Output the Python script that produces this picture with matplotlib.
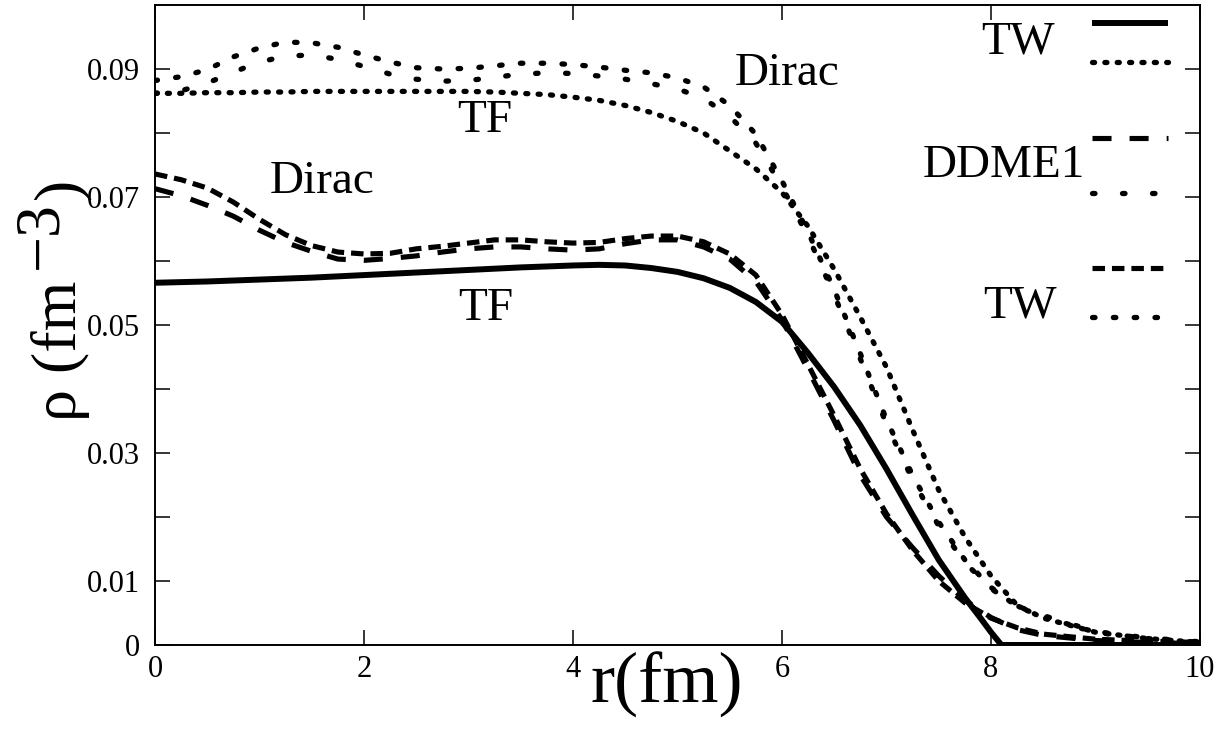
import matplotlib
matplotlib.use('Agg')
import matplotlib.pyplot as plt
from matplotlib.transforms import IdentityTransform

plt.rcParams['font.family'] = ['Liberation Serif', 'DejaVu Serif']
plt.rcParams['lines.scale_dashes'] = False

# ---------------- data ----------------
r_tf_solid = [0, 0.5, 1, 1.5, 2, 2.5, 3, 3.5, 4, 4.25, 4.5, 4.75, 5, 5.25, 5.5, 5.75,
              6, 6.25, 6.5, 6.75, 7, 7.25, 7.5, 7.75, 7.9, 8, 8.1, 9, 10]
rho_tf_solid = [0.0566, 0.0568, 0.0571, 0.0574, 0.0578, 0.0582, 0.0586, 0.0590, 0.0593,
                0.0594, 0.0593, 0.0589, 0.0583, 0.0573, 0.0558, 0.0536, 0.0505, 0.0456,
                0.0403, 0.0343, 0.0275, 0.0203, 0.0133, 0.0074, 0.0042, 0.0020, 0.0,
                0.0, 0.0]

r_grid = [0.0, 0.25, 0.5, 0.75, 1.0, 1.25, 1.5, 1.75, 2.0, 2.25, 2.5, 2.75, 3.0, 3.25,
          3.5, 3.75, 4.0, 4.25, 4.5, 4.75, 5.0, 5.25, 5.5, 5.75, 6.0, 6.25, 6.5, 6.75,
          7.0, 7.25, 7.5, 7.75, 8.0, 8.25, 8.5, 9.0, 9.5, 10.0]

rho_tf_dotted = [0.0862, 0.0862, 0.0863, 0.0863, 0.0864, 0.0864, 0.0865, 0.0865, 0.0865,
                 0.0865, 0.0865, 0.0865, 0.0865, 0.0864, 0.0862, 0.0860, 0.0856, 0.0851,
                 0.0843, 0.0832, 0.0818, 0.0800, 0.0772, 0.0744, 0.0707, 0.0654, 0.0587,
                 0.0512, 0.0434, 0.0336, 0.0242, 0.0169, 0.0108, 0.0062, 0.0042, 0.0020,
                 0.0010, 0.0004]

rho_tw_dot = [0.0882, 0.0888, 0.0899, 0.0919, 0.0933, 0.0942, 0.0941, 0.0934, 0.0922,
              0.0911, 0.0902, 0.0900, 0.0901, 0.0905, 0.0909, 0.0909, 0.0907, 0.0903,
              0.0898, 0.0894, 0.0886, 0.0872, 0.0843, 0.0798, 0.0725, 0.0645, 0.0555,
              0.0455, 0.0352, 0.0265, 0.0192, 0.0133, 0.0090, 0.0060, 0.0044, 0.0020,
              0.0010, 0.0004]

rho_ddme1_dot = [0.0862, 0.0866, 0.0878, 0.0895, 0.0911, 0.0920, 0.0922, 0.0915, 0.0904,
                 0.0892, 0.0884, 0.0881, 0.0882, 0.0887, 0.0892, 0.0894, 0.0893, 0.0889,
                 0.0884, 0.0877, 0.0869, 0.0854, 0.0826, 0.0784, 0.0716, 0.0638, 0.0547,
                 0.0447, 0.0345, 0.0258, 0.0186, 0.0129, 0.0088, 0.0061, 0.0046, 0.0021,
                 0.0011, 0.0005]

rho_ddme1_dash = [0.0713, 0.0702, 0.0687, 0.0670, 0.0648, 0.0629, 0.0615, 0.0603, 0.0601,
                  0.0604, 0.0608, 0.0614, 0.0619, 0.0622, 0.0622, 0.0619, 0.0617, 0.0619,
                  0.0627, 0.0633, 0.0633, 0.0622, 0.0603, 0.0568, 0.0508, 0.0430, 0.0350,
                  0.0265, 0.0200, 0.0152, 0.0108, 0.0070, 0.0043, 0.0024, 0.0015, 0.0007,
                  0.0004, 0.0002]

rho_tw_dash = [0.0736, 0.0727, 0.0714, 0.0692, 0.0665, 0.0641, 0.0624, 0.0614, 0.0611,
               0.0612, 0.0619, 0.0623, 0.0628, 0.0633, 0.0633, 0.0630, 0.0628, 0.0629,
               0.0635, 0.0639, 0.0639, 0.0630, 0.0611, 0.0578, 0.0516, 0.0438, 0.0358,
               0.0275, 0.0205, 0.0148, 0.0100, 0.0066, 0.0042, 0.0027, 0.0017, 0.0009,
               0.0006, 0.0004]

x_ticks = [0, 2, 4, 6, 8, 10]
y_ticks = [0, 0.01, 0.02, 0.03, 0.04, 0.05, 0.06, 0.07, 0.08, 0.09]
y_tick_labels = ['0', '0.01', '', '0.03', '', '0.05', '', '0.07', '', '0.09']

# ---------------- styles ----------------
st_solid = dict(color='black', lw=4.3, linestyle='-', solid_capstyle='butt',
                solid_joinstyle='round')
st_fine_dot = dict(color='black', lw=3.8, linestyle=(0, (1.5, 7.4)), dash_capstyle='round')
st_tw_dot = dict(color='black', lw=3.8, linestyle=(0, (1.8, 13.2)), dash_capstyle='round')
st_dd_dot = dict(color='black', lw=3.8, linestyle=(0, (1.8, 19.8)), dash_capstyle='round')
st_dd_dash = dict(color='black', lw=3.7, linestyle=(0, (13.7, 13.0)), dash_capstyle='butt')
st_tw_dash = dict(color='black', lw=3.7, linestyle=(0, (9.0, 5.0)), dash_capstyle='butt')

W, H = 1229, 733
fig = plt.figure(figsize=(W / 100, H / 100), dpi=100)
ax = fig.add_axes([155 / W, (H - 645) / H, 1045 / W, 640 / H])

ax.plot(r_tf_solid, rho_tf_solid, **st_solid)
ax.plot(r_grid, rho_tf_dotted, **st_fine_dot)
ax.plot(r_grid, rho_ddme1_dash, **st_dd_dash)
ax.plot(r_grid, rho_ddme1_dot, **st_dd_dot)
ax.plot(r_grid, rho_tw_dash, **st_tw_dash)
ax.plot(r_grid, rho_tw_dot, **st_tw_dot)

ax.set_xlim(0, 10)
ax.set_ylim(0, 0.1)
ax.set_xticks(x_ticks)
ax.set_xticklabels([str(t) for t in x_ticks])
ax.set_yticks(y_ticks)
ax.set_yticklabels(y_tick_labels)
ax.tick_params(direction='in', length=10.8, width=1.1, top=True, right=True,
               labelsize=22, colors='black')
ax.tick_params(axis='x', pad=7)
ax.tick_params(axis='y', pad=11)
for s in ax.spines.values():
    s.set_linewidth(1.4)

# in-plot annotations
fs_ann = 34
ax.text(5.55, 0.0875, 'Dirac', fontsize=fs_ann, ha='left', va='baseline')
ax.text(2.89, 0.0802, 'TF', fontsize=fs_ann, ha='left', va='baseline')
ax.text(1.10, 0.0706, 'Dirac', fontsize=fs_ann, ha='left', va='baseline')
ax.text(2.90, 0.0508, 'TF', fontsize=fs_ann, ha='left', va='baseline')

# key (gnuplot-like)
kx0, kx1 = 0.897, 0.969
key_rows = [(0.972, st_solid), (0.911, st_fine_dot), (0.792, st_dd_dash),
            (0.706, st_dd_dot), (0.589, st_tw_dash), (0.5125, st_tw_dot)]
for yk, st in key_rows:
    ax.plot([kx0, kx1], [yk, yk], transform=ax.transAxes, clip_on=False, **st)
ax.text(0.861, 0.925, 'TW', transform=ax.transAxes, fontsize=fs_ann, ha='right', va='baseline')
ax.text(0.890, 0.731, 'DDME1', transform=ax.transAxes, fontsize=fs_ann, ha='right', va='baseline')
ax.text(0.863, 0.5125, 'TW', transform=ax.transAxes, fontsize=fs_ann, ha='right', va='baseline')

# axis labels
ax.set_xlabel('r(fm)', fontsize=52)
ax.xaxis.set_label_coords(0.490, -0.010)
ax.xaxis.label.set_va('top')

fig.canvas.draw()
renderer = fig.canvas.get_renderer()
fs_lab = 46
kw = dict(rotation=90, rotation_mode='anchor', ha='left', va='baseline',
          fontsize=fs_lab, transform=IdentityTransform())
base_x = 76
t1 = fig.text(base_x, 312, 'ρ (fm', **kw)
bb1 = t1.get_window_extent(renderer)
t2 = fig.text(base_x - 20, bb1.y1 + 12, '−3', **kw)
bb2 = t2.get_window_extent(renderer)
t3 = fig.text(base_x, bb2.y1 + 2, ')', **kw)

fig.savefig('out.png', dpi=100)
